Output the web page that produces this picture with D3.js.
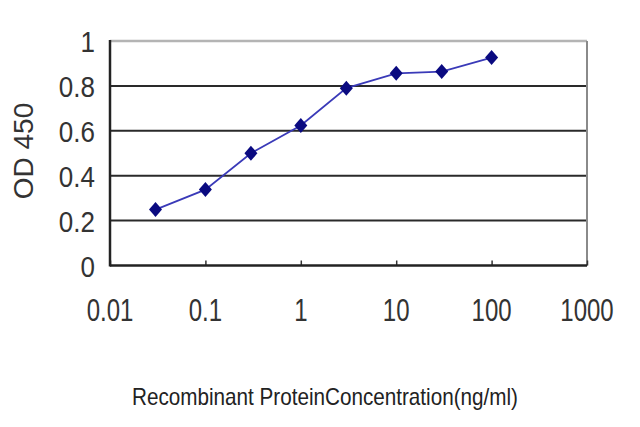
<!DOCTYPE html>
<html><head><meta charset="utf-8">
<script src="https://cdn.jsdelivr.net/npm/d3@7"></script>
<style>html,body{margin:0;padding:0;background:#fff;}svg{display:block;}</style>
</head><body>
<svg id="c" width="640" height="427"></svg>
<script>
const concentrations = [0.03, 0.1, 0.3, 1, 3, 10, 30, 100];
const odValues = [0.249, 0.338, 0.50, 0.624, 0.79, 0.856, 0.864, 0.926];
const xTicks = [0.01, 0.1, 1, 10, 100, 1000];
const xTickLabels = ["0.01", "0.1", "1", "10", "100", "1000"];
const yTicks = [0, 0.2, 0.4, 0.6, 0.8, 1];
const yTickLabels = ["0", "0.2", "0.4", "0.6", "0.8", "1"];
const yTitle = "OD 450";
const xTitle = "Recombinant ProteinConcentration(ng/ml)";

const svg = d3.select("#c");
const L = 110, R = 587, T = 41, B = 265.5;
const x = d3.scaleLog().domain([0.01, 1000]).range([L, R]);
const y = d3.scaleLinear().domain([0, 1]).range([B, T]);
const font = "'Liberation Sans', Arial, sans-serif";

// gridlines
svg.append("g").selectAll("line").data(yTicks.filter(v => v > 0 && v < 1)).join("line")
  .attr("x1", L).attr("x2", R).attr("y1", d => y(d)).attr("y2", d => y(d))
  .attr("stroke", "#2a2a2a").attr("stroke-width", 2);
// top & right border
svg.append("line").attr("x1", L).attr("x2", R).attr("y1", y(1)).attr("y2", y(1))
  .attr("stroke", "#b4b4b4").attr("stroke-width", 2.5);
svg.append("line").attr("x1", R).attr("x2", R).attr("y1", y(1)).attr("y2", B)
  .attr("stroke", "#8a8a8a").attr("stroke-width", 2);

// axes
const xAxis = d3.axisBottom(x).tickValues(xTicks).tickSize(-5).tickFormat("");
const gx = svg.append("g").attr("transform", `translate(0,${B})`).call(xAxis);
gx.select(".domain").remove();
gx.selectAll(".tick line").attr("stroke", "#333").attr("stroke-width", 1.5);
svg.append("line").attr("x1", L).attr("x2", R).attr("y1", B).attr("y2", B)
  .attr("stroke", "#222").attr("stroke-width", 2.5);
svg.append("line").attr("x1", L).attr("x2", L).attr("y1", y(1) - 1).attr("y2", B + 1)
  .attr("stroke", "#222").attr("stroke-width", 2.5);

// x tick labels
svg.append("g").selectAll("text").data(xTicks).join("text")
  .attr("transform", d => `translate(${x(d)},321) scale(1,1.28)`)
  .attr("text-anchor", "middle").attr("font-family", font).attr("font-size", 24)
  .attr("fill", "#333").text((d, i) => xTickLabels[i]);

// y tick labels
svg.append("g").selectAll("text").data(yTicks).join("text")
  .attr("transform", d => `translate(95,${y(d) + 11}) scale(1,1.15)`)
  .attr("text-anchor", "end").attr("font-family", font).attr("font-size", 26)
  .attr("fill", "#333").text((d, i) => yTickLabels[i]);

// titles
svg.append("text").attr("transform", "translate(33,151) rotate(-90)")
  .attr("text-anchor", "middle").attr("font-family", font).attr("font-size", 28)
  .attr("fill", "#333").text(yTitle);
svg.append("text").attr("x", 325).attr("y", 405)
  .attr("text-anchor", "middle").attr("font-family", font).attr("font-size", 24)
  .attr("textLength", 386).attr("lengthAdjust", "spacingAndGlyphs")
  .attr("fill", "#222").text(xTitle);

// series
const pts = concentrations.map((c, i) => [c, odValues[i]]);
svg.append("path").datum(pts)
  .attr("d", d3.line().x(d => x(d[0])).y(d => y(d[1])))
  .attr("fill", "none").attr("stroke", "#3a3ab8").attr("stroke-width", 1.8);
svg.append("g").selectAll("path").data(pts).join("path")
  .attr("transform", d => `translate(${x(d[0])},${y(d[1])})`)
  .attr("d", "M0,-7.5L6.5,0L0,7.5L-6.5,0Z")
  .attr("fill", "#0a0a80");
</script>
</body></html>
